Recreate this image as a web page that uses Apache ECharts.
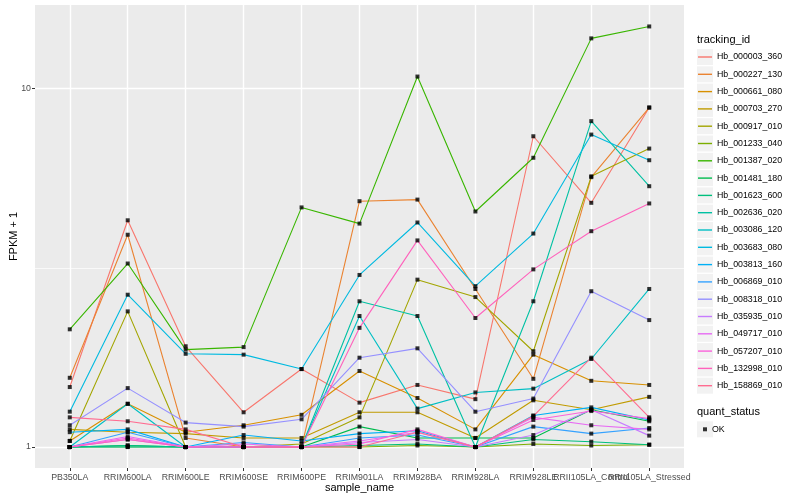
<!DOCTYPE html>
<html>
<head>
<meta charset="utf-8">
<script src="https://cdn.jsdelivr.net/npm/echarts@6/dist/echarts.min.js"></script>
<style>html,body{margin:0;padding:0;background:#fff}#c{width:800px;height:500px}</style>
</head>
<body>
<div id="c"></div>
<script>
const categories = ['PB350LA','RRIM600LA','RRIM600LE','RRIM600SE','RRIM600PE','RRIM901LA','RRIM928BA','RRIM928LA','RRIM928LE','RRII105LA_Control','RRII105LA_Stressed'];
const trackingIds = ['Hb_000003_360','Hb_000227_130','Hb_000661_080','Hb_000703_270','Hb_000917_010','Hb_001233_040','Hb_001387_020','Hb_001481_180','Hb_001623_600','Hb_002636_020','Hb_003086_120','Hb_003683_080','Hb_003813_160','Hb_006869_010','Hb_008318_010','Hb_035935_010','Hb_049717_010','Hb_057207_010','Hb_132998_010','Hb_158869_010'];
const hueColors = ['#F8766D','#EA8331','#D89000','#C09B00','#A3A500','#7CAE00','#39B600','#00BB4E','#00BF7D','#00C1A3','#00BFC4','#00BAE0','#00B0F6','#35A2FF','#9590FF','#C77CFF','#E76BF3','#FA62DB','#FF62BC','#FF6C91'];

const hb000003 = [1.47, 4.29, 1.91, 1.25, 1.65, 1.33, 1.49, 1.36, 7.36, 4.80, 8.85];
const hb000227 = [1.56, 3.91, 1.06, 1.00, 1.00, 4.85, 4.90, 2.76, 1.55, 5.66, 8.85];
const hb000661 = [1.04, 1.32, 1.10, 1.15, 1.23, 1.63, 1.37, 1.12, 1.81, 1.53, 1.49];
const hb000703 = [1.12, 1.10, 1.09, 1.06, 1.06, 1.25, 1.25, 1.06, 1.35, 1.27, 1.38];
const hb000917 = [1.04, 2.39, 1.00, 1.00, 1.02, 1.21, 2.93, 2.62, 1.85, 5.69, 6.80];
const hb001233 = [1.00, 1.00, 1.00, 1.00, 1.00, 1.00, 1.01, 1.00, 1.02, 1.01, 1.015];
const hb001387 = [2.13, 3.25, 1.87, 1.90, 4.66, 4.20, 10.8, 4.54, 6.41, 13.8, 14.9];
const hb001481 = [1.00, 1.01, 1.00, 1.00, 1.00, 1.14, 1.06, 1.06, 1.06, 1.27, 1.18];
const hb001623 = [1.00, 1.01, 1.00, 1.00, 1.00, 1.01, 1.02, 1.00, 1.05, 1.035, 1.015];
const hb002636 = [1.00, 1.00, 1.00, 1.00, 1.00, 2.55, 2.32, 1.00, 2.55, 8.11, 5.34];
const hb003086 = [1.00, 1.32, 1.00, 1.00, 1.00, 2.32, 1.28, 1.42, 1.455, 1.76, 2.76];
const hb003683 = [1.255, 2.66, 1.82, 1.81, 1.65, 3.02, 4.23, 2.81, 3.94, 7.44, 6.31];
const hb003813 = [1.10, 1.12, 1.00, 1.08, 1.04, 1.09, 1.11, 1.00, 1.225, 1.29, 1.19];
const hb006869 = [1.00, 1.10, 1.00, 1.03, 1.00, 1.06, 1.08, 1.00, 1.14, 1.09, 1.13];
const hb008318 = [1.15, 1.46, 1.17, 1.14, 1.195, 1.775, 1.885, 1.255, 1.365, 2.72, 2.26];
const hb035935 = [1.00, 1.05, 1.00, 1.00, 1.00, 1.03, 1.05, 1.00, 1.08, 1.27, 1.076];
const hb049717 = [1.00, 1.07, 1.00, 1.02, 1.00, 1.04, 1.10, 1.00, 1.21, 1.15, 1.12];
const hb057207 = [1.00, 1.06, 1.00, 1.00, 1.00, 1.02, 1.12, 1.00, 1.19, 1.26, 1.20];
const hb132998 = [1.00, 1.05, 1.00, 1.00, 1.00, 2.15, 3.77, 2.29, 3.13, 4.00, 4.78];
const hb158869 = [1.21, 1.18, 1.12, 1.00, 1.00, 1.00, 1.10, 1.00, 1.22, 1.775, 1.21];

const seriesValues = [hb000003, hb000227, hb000661, hb000703, hb000917, hb001233, hb001387, hb001481, hb001623, hb002636, hb003086, hb003683, hb003813, hb006869, hb008318, hb035935, hb049717, hb057207, hb132998, hb158869];
const yMajorTicks = [1, 10];
const yMinorTicks = [Math.sqrt(10)];
const statusName = 'OK';

const FONT = 'Liberation Sans, Arial, Helvetica, sans-serif';
const xTicks = categories.map((c, i) => i + 1);
// ggplot draws overlapping labels; split alternate labels over two axes so none is auto-hidden
const xLabelsA = xTicks.filter(v => v % 2 === 1);
const xLabelsB = xTicks.filter(v => v % 2 === 0);

const lineSeries = trackingIds.map((id, i) => ({
  name: id,
  type: 'line',
  data: seriesValues[i].map((v, j) => [j + 1, v]),
  showSymbol: false,
  lineStyle: { color: hueColors[i], width: 1.1 },
  itemStyle: { color: hueColors[i] },
  z: 2,
  silent: true
}));
const pointData = [];
seriesValues.forEach(arr => arr.forEach((v, j) => pointData.push([j + 1, v])));

const legendRowH = 17.3;
const legendTop1 = 48.35;
const legendTop2 = 420.65;
const keyBoxes = [];
trackingIds.forEach((id, i) => {
  keyBoxes.push({ type: 'rect', left: 697, top: legendTop1 + i * legendRowH + 0.65, shape: { width: 16, height: 16 }, style: { fill: '#F2F2F2' }, z: -1, silent: true });
});
keyBoxes.push({ type: 'rect', left: 697, top: legendTop2 + 0.65, shape: { width: 16, height: 16 }, style: { fill: '#F2F2F2' }, z: -1, silent: true });

const xLabelStyle = { formatter: v => categories[Math.round(v) - 1], fontSize: 8.8, color: '#4D4D4D', margin: 5, hideOverlap: false, showMinLabel: true, showMaxLabel: true, fontFamily: FONT };

const chart = echarts.init(document.getElementById('c'), null, { renderer: 'canvas' });
chart.setOption({
  animation: false,
  backgroundColor: '#fff',
  textStyle: { fontFamily: FONT },
  title: [
    { text: 'tracking_id', left: 697, top: 34, padding: 0, textStyle: { fontSize: 11, fontWeight: 'normal', color: '#000', fontFamily: FONT } },
    { text: 'quant_status', left: 697, top: 406, padding: 0, textStyle: { fontSize: 11, fontWeight: 'normal', color: '#000', fontFamily: FONT } }
  ],
  graphic: keyBoxes,
  grid: { left: 35, right: 116, top: 5, bottom: 32, show: true, backgroundColor: '#EBEBEB', borderWidth: 0, containLabel: false, outerBoundsMode: 'none' },
  xAxis: [
    {
      type: 'value', min: 0.4, max: 11.6, position: 'bottom',
      axisLine: { show: false },
      axisTick: { show: true, length: 3, lineStyle: { color: '#333', width: 1 }, customValues: xTicks },
      axisLabel: Object.assign({ customValues: xLabelsA }, xLabelStyle),
      splitLine: { show: true, lineStyle: { color: '#FFFFFF', width: 1.4 } },
      name: 'sample_name', nameLocation: 'middle', nameGap: 14.5, nameMoveOverlap: false,
      nameTextStyle: { fontSize: 11, color: '#000', fontFamily: FONT }
    },
    {
      type: 'value', min: 0.4, max: 11.6, position: 'bottom', offset: 0,
      axisLine: { show: false },
      axisTick: { show: false, customValues: xLabelsB },
      axisLabel: Object.assign({ customValues: xLabelsB }, xLabelStyle),
      splitLine: { show: false }
    }
  ],
  yAxis: [
    {
      type: 'log', logBase: 10, min: 0.874, max: 17.1,
      axisLine: { show: false },
      axisTick: { show: true, length: 3, lineStyle: { color: '#333', width: 1 }, customValues: yMajorTicks },
      axisLabel: { customValues: yMajorTicks, formatter: v => String(Math.round(v)), fontSize: 8.8, color: '#4D4D4D', margin: 4, showMinLabel: true, showMaxLabel: true, fontFamily: FONT },
      splitLine: { show: true, lineStyle: { color: '#FFFFFF', width: 1.4 } },
      name: 'FPKM + 1', nameLocation: 'middle', nameGap: 16, nameRotate: 90, nameMoveOverlap: false,
      nameTextStyle: { fontSize: 11, color: '#000', fontFamily: FONT }
    },
    {
      type: 'log', logBase: 10, min: 0.874, max: 17.1, position: 'left',
      axisLine: { show: false },
      axisTick: { show: false, customValues: yMinorTicks },
      axisLabel: { show: false, customValues: yMinorTicks },
      splitLine: { show: true, lineStyle: { color: '#FFFFFF', width: 0.7 } }
    }
  ],
  legend: [
    {
      orient: 'vertical', left: 698, top: legendTop1, padding: 0, itemGap: 0,
      itemWidth: 14, itemHeight: 1.4, icon: 'rect', selectedMode: false,
      textStyle: { fontSize: 8.8, color: '#000', lineHeight: legendRowH, fontFamily: FONT },
      data: trackingIds.map((id, i) => ({ name: id, itemStyle: { color: hueColors[i] } }))
    },
    {
      orient: 'vertical', left: 703, top: legendTop2, padding: 0, itemGap: 0,
      itemWidth: 4, itemHeight: 4, icon: 'rect', itemTextGap: 9, selectedMode: false,
      textStyle: { fontSize: 8.8, color: '#000', lineHeight: legendRowH, fontFamily: FONT },
      data: [{ name: statusName, itemStyle: { color: '#000' } }]
    }
  ],
  series: lineSeries.concat([{
    name: statusName,
    type: 'scatter',
    data: pointData,
    symbol: 'rect',
    symbolSize: 4,
    itemStyle: { color: '#000' },
    z: 3,
    silent: true
  }])
});
</script>
</body>
</html>
